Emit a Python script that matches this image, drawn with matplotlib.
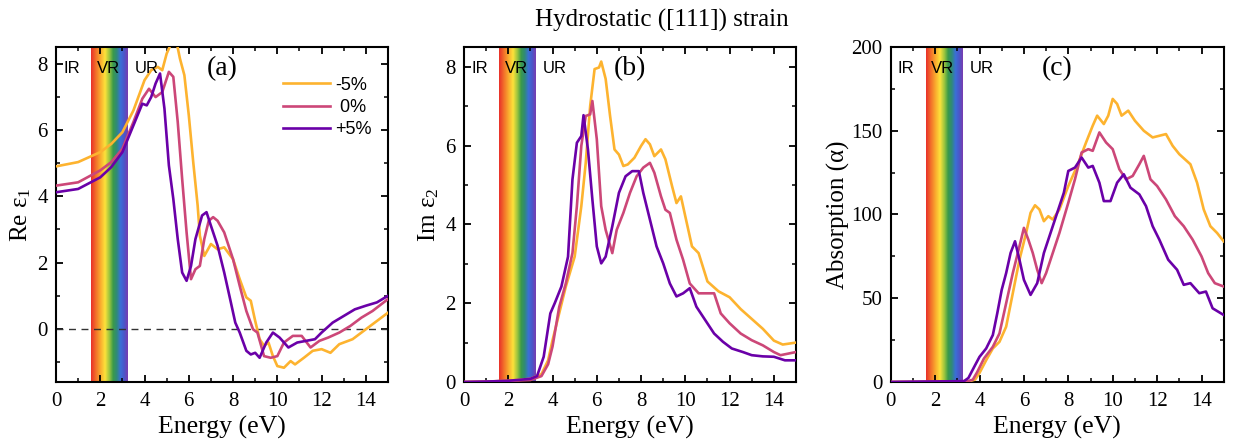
import numpy as np
import matplotlib
matplotlib.use("Agg")
import matplotlib.pyplot as plt
from matplotlib.colors import LinearSegmentedColormap
from matplotlib.ticker import MultipleLocator

plt.rcParams.update({
    "font.family":      "serif",
    "font.serif":       ["Liberation Serif", "DejaVu Serif"],
    "mathtext.fontset": "stix",
    "font.size":        15,
    "axes.linewidth":   1.5,
    "xtick.direction":  "in",
    "ytick.direction":  "in",
    "xtick.top":        True,
    "ytick.right":      True,
    "xtick.major.size": 5,
    "ytick.major.size": 5,
    "xtick.minor.size": 3,
    "ytick.minor.size": 3,
    "xtick.major.width": 1.3,
    "ytick.major.width": 1.3,
    "xtick.minor.width": 1.1,
    "ytick.minor.width": 1.1,
})

COLORS = {"-5%": "#fdb32f", " 0%": "#cc4778", "+5%": "#6a00a8"}

# ---- (a) Re eps1 ----
re_m5_E = [0, 1, 2, 2.5, 3, 3.5, 4, 4.3, 4.6, 4.8, 5.0, 5.2, 5.4, 5.6, 5.8, 6.0, 6.2, 6.4,
           6.5, 6.7, 7.0, 7.3, 7.6, 8.0, 8.3, 8.6, 8.8, 9.0, 9.2, 9.4, 9.6, 9.8, 10.0,
           10.3, 10.6, 10.8, 11.2, 11.6, 12.0, 12.4, 12.8, 13.4, 13.8, 14.2, 14.6, 15]
re_m5 = [4.90, 5.03, 5.33, 5.58, 5.93, 6.59, 7.5, 7.8, 7.9, 7.8, 8.3, 8.6, 8.8, 8.15, 7.65,
         6.44, 5.03, 3.72, 2.81, 2.2, 2.56, 2.4, 2.46, 2.1, 1.5, 0.95, 0.85, 0.24, -0.31,
         -0.51, -0.41, -0.82, -1.12, -1.17, -0.97, -1.07, -0.87, -0.66, -0.61, -0.72,
         -0.46, -0.31, -0.11, 0.09, 0.29, 0.49]

re_0_E = [0, 1, 2, 2.5, 3, 3.5, 3.9, 4.2, 4.5, 4.8, 5.1, 5.3, 5.5, 5.7, 5.9, 6.1, 6.3, 6.5,
          6.7, 6.9, 7.1, 7.3, 7.6, 8.0, 8.3, 8.6, 8.9, 9.1, 9.4, 9.7, 10.0, 10.3, 10.7,
          11.1, 11.5, 11.9, 12.3, 12.8, 13.3, 13.8, 14.3, 15]
re_0 = [4.32, 4.42, 4.78, 5.03, 5.43, 6.24, 6.94, 7.24, 6.99, 7.14, 7.75, 7.6, 6.24, 4.52,
        2.91, 1.5, 1.8, 1.9, 2.71, 3.26, 3.37, 3.26, 2.91, 2.1, 1.3, 0.54, -0.01, -0.11,
        -0.82, -0.87, -0.82, -0.41, -0.21, -0.21, -0.56, -0.36, -0.26, -0.11, 0.09, 0.34,
        0.54, 0.90]

re_p5_E = [0, 1, 2, 2.5, 3, 3.5, 3.9, 4.1, 4.3, 4.5, 4.7, 4.9, 5.1, 5.3, 5.5, 5.7, 5.9,
           6.1, 6.3, 6.6, 6.8, 7.0, 7.3, 7.6, 7.9, 8.1, 8.3, 8.6, 8.8, 9.0, 9.2, 9.5, 9.8,
           10.1, 10.5, 10.9, 11.3, 11.7, 12.0, 12.5, 13.0, 13.5, 14.0, 14.5, 15.0]
re_p5 = [4.12, 4.22, 4.57, 4.88, 5.33, 6.14, 6.79, 6.74, 6.99, 7.4, 7.7, 6.64, 4.93, 3.92,
         2.71, 1.7, 1.45, 1.9, 2.71, 3.42, 3.52, 3.11, 2.51, 1.7, 0.8, 0.19, -0.11, -0.66,
         -0.77, -0.72, -0.87, -0.41, -0.11, -0.26, -0.56, -0.41, -0.36, -0.31, -0.11, 0.19,
         0.39, 0.59, 0.70, 0.80, 1.0]

# ---- (b) Im eps2 ----
im_m5_E = [0, 1, 2, 3, 3.5, 3.8, 4.0, 4.3, 4.6, 4.8, 5.0, 5.3, 5.5, 5.7, 5.9, 6.1, 6.2, 6.4,
           6.6, 6.8, 7.0, 7.2, 7.4, 7.7, 8.0, 8.2, 8.4, 8.6, 8.9, 9.1, 9.4, 9.6, 9.8, 10.0,
           10.3, 10.6, 11.0, 11.5, 12.0, 12.5, 13.0, 13.5, 14.0, 14.4, 15.0]
im_m5 = [0.0, 0.01, 0.03, 0.08, 0.2, 0.55, 1.06, 1.74, 2.42, 2.8, 3.18, 4.46, 5.56, 7.0,
         7.94, 7.98, 8.13, 7.69, 6.75, 5.9, 5.77, 5.48, 5.52, 5.69, 5.99, 6.16, 6.03, 5.73,
         5.9, 5.65, 4.97, 4.54, 4.71, 4.2, 3.44, 3.27, 2.55, 2.3, 2.15, 1.85, 1.6, 1.35,
         1.05, 0.95, 1.0]

im_0_E = [0, 1, 2, 3, 3.5, 3.8, 4.0, 4.3, 4.6, 4.9, 5.1, 5.3, 5.5, 5.7, 5.8, 6.0, 6.2, 6.4,
          6.7, 6.9, 7.2, 7.5, 7.8, 8.1, 8.4, 8.6, 8.9, 9.1, 9.3, 9.6, 9.9, 10.2, 10.6, 11.0,
          11.3, 11.6, 12.0, 12.5, 13.0, 13.5, 14.0, 14.3, 15]
im_0 = [0.0, 0.01, 0.03, 0.05, 0.15, 0.45, 0.9, 1.9, 2.5, 3.27, 4.46, 5.99, 6.75, 6.79,
        7.13, 6.16, 4.46, 3.86, 3.27, 3.86, 4.29, 4.8, 5.22, 5.44, 5.56, 5.31, 4.71, 4.37,
        4.29, 3.61, 3.1, 2.5, 2.25, 2.25, 2.25, 1.74, 1.49, 1.23, 1.06, 0.93, 0.76, 0.68,
        0.76]

im_p5_E = [0, 1, 2, 3, 3.3, 3.6, 3.9, 4.1, 4.4, 4.7, 4.9, 5.1, 5.3, 5.4, 5.6, 5.8, 6.0, 6.2,
           6.4, 6.7, 7.0, 7.3, 7.6, 7.9, 8.1, 8.4, 8.7, 9.0, 9.3, 9.6, 9.9, 10.2, 10.5,
           10.9, 11.3, 11.7, 12.1, 12.6, 13.0, 13.5, 14.0, 14.5, 15]
im_p5 = [0.0, 0.01, 0.03, 0.08, 0.15, 0.64, 1.74, 2.0, 2.42, 3.18, 5.14, 6.07, 6.24, 6.77,
         5.9, 4.63, 3.44, 3.01, 3.18, 3.95, 4.8, 5.22, 5.35, 5.35, 4.8, 4.12, 3.44, 3.01,
         2.5, 2.17, 2.25, 2.38, 1.91, 1.57, 1.23, 1.02, 0.85, 0.76, 0.68, 0.65, 0.64, 0.55,
         0.55]

# ---- (c) absorption ----
ab_m5_E = [0, 3.4, 3.8, 4.0, 4.3, 4.6, 4.9, 5.2, 5.5, 5.8, 6.1, 6.3, 6.5, 6.7, 6.9, 7.1,
           7.3, 7.6, 8.0, 8.4, 8.8, 9.1, 9.3, 9.6, 9.8, 10.0, 10.2, 10.4, 10.7, 11.0, 11.4,
           11.8, 12.1, 12.4, 12.7, 13.0, 13.5, 13.8, 14.1, 14.4, 14.7, 15]
ab_m5 = [0, 0, 1.4, 5.4, 13, 20, 24, 33, 53, 73, 89, 101, 105.5, 103, 96, 99, 97, 103, 117,
         129, 143, 153, 159, 154, 159, 169, 166, 159, 162, 156, 150, 146, 147, 148, 141,
         136, 130, 119, 103, 93, 89, 84]

ab_0_E = [0, 3.5, 3.7, 3.9, 4.2, 4.6, 4.9, 5.2, 5.5, 5.8, 6.0, 6.2, 6.4, 6.6, 6.8, 7.0, 7.3,
          7.6, 8.0, 8.3, 8.6, 8.9, 9.1, 9.4, 9.7, 10.0, 10.3, 10.6, 10.9, 11.2, 11.4, 11.7,
          12.0, 12.4, 12.8, 13.2, 13.6, 14.0, 14.3, 14.6, 15]
ab_0 = [0, 0.5, 1.4, 6, 14, 21, 29, 47, 65, 81, 92, 85, 77, 67, 59, 65, 77, 89, 107, 121,
        137, 139, 138, 149, 143, 139, 127, 121, 123, 130, 135, 121, 117, 109, 99, 93, 85,
        75, 65, 59, 57]

ab_p5_E = [0, 3.3, 3.5, 3.8, 4.0, 4.3, 4.6, 4.8, 5.0, 5.2, 5.4, 5.6, 5.8, 6.0, 6.3, 6.6, 6.9,
           7.2, 7.5, 7.8, 8.0, 8.3, 8.6, 8.9, 9.1, 9.4, 9.6, 9.9, 10.2, 10.5, 10.8, 11.2,
           11.5, 11.8, 12.1, 12.5, 12.9, 13.2, 13.5, 13.9, 14.2, 14.5, 15]
ab_p5 = [0, 0.5, 2.4, 10, 15, 20, 28, 41, 55, 65, 77, 84, 73, 61, 52, 59, 77, 89, 101, 113,
         126, 128, 134, 128, 129, 119, 108, 108, 119, 124, 116, 112, 105, 93, 85, 73, 67,
         58, 59, 53, 54, 44, 40]

# rainbow for the visible range
rainbow = LinearSegmentedColormap.from_list("vis", [
    (0.00, "#e8302a"), (0.12, "#f26a2a"), (0.25, "#f9a82e"), (0.38, "#fde23a"),
    (0.50, "#9ac43f"), (0.60, "#3a9a4a"), (0.70, "#2f8a7a"), (0.80, "#3b6fd8"),
    (0.90, "#4b56c8"), (1.00, "#7a3cb0")])
VIS_LO, VIS_HI = 1.6, 3.25

fig = plt.figure(figsize=(12.43, 4.45), dpi=100)
W = 332 / 1243
axes = [fig.add_axes([56 / 1243, 0.1416, W, 0.7528]),
        fig.add_axes([464 / 1243, 0.1416, W, 0.7528]),
        fig.add_axes([890.7 / 1243, 0.1416, 333 / 1243, 0.7528])]

panels = [
    (axes[0], [(re_m5_E, re_m5), (re_0_E, re_0), (re_p5_E, re_p5)],
     (-1.6, 8.5), 2, 1, "Re ε$_\\mathregular{1}$", "(a)", 3),
    (axes[1], [(im_m5_E, im_m5), (im_0_E, im_0), (im_p5_E, im_p5)],
     (0, 8.5), 2, 1, "Im ε$_\\mathregular{2}$", "(b)", 3),
    (axes[2], [(ab_m5_E, ab_m5), (ab_0_E, ab_0), (ab_p5_E, ab_p5)],
     (0, 200), 50, 25, "Absorption (α)", "(c)", 1),
]

grad = np.linspace(0, 1, 256).reshape(1, -1)
for ax, series, ylim, ymaj, ymin, ylab, tag, lpad in panels:
    ax.imshow(grad, cmap=rainbow, aspect="auto",
              extent=[VIS_LO, VIS_HI, ylim[0], ylim[1]], zorder=0)
    for (E, v), lbl in zip(series, COLORS):
        ax.plot(E, v, color=COLORS[lbl], lw=1.9, label=lbl, zorder=3)
    ax.set_xlim(0, 15)
    ax.set_ylim(*ylim)
    ax.xaxis.set_major_locator(MultipleLocator(2))
    ax.xaxis.set_minor_locator(MultipleLocator(1))
    ax.yaxis.set_major_locator(MultipleLocator(ymaj))
    ax.yaxis.set_minor_locator(MultipleLocator(ymin))
    ax.tick_params(which="both", top=True, right=True, labelsize=15)
    ax.tick_params(axis="x", pad=7)
    ax.tick_params(axis="y", pad=6)
    ax.set_xlabel("Energy (eV)", fontsize=18.5, labelpad=4)
    ax.set_ylabel(ylab, fontsize=18, labelpad=lpad)
    ax.text(0.5, 0.935, tag, transform=ax.transAxes, ha="center", va="center",
            fontsize=20)
    ytxt = ylim[1] - 0.065 * (ylim[1] - ylim[0])
    for x, s in [(0.7, "IR"), (2.35, "VR"), (4.1, "UR")]:
        ax.text(x, ytxt, s, ha="center", va="center", fontsize=12,
                family="Liberation Sans", zorder=4)

axes[0].axhline(0, color="#333333", lw=1.0, ls=(0, (5, 4)), zorder=2)
axes[0].legend(loc="upper right", bbox_to_anchor=(1.0, 0.96), frameon=False,
               prop={"family": "Liberation Sans", "size": 13},
               handlelength=2.6, handletextpad=0.3, labelspacing=0.3)

fig.text(662 / 1243, 0.953, "Hydrostatic ([111]) strain", ha="center", va="center",
         fontsize=18)

fig.savefig("out.png", dpi=100)
